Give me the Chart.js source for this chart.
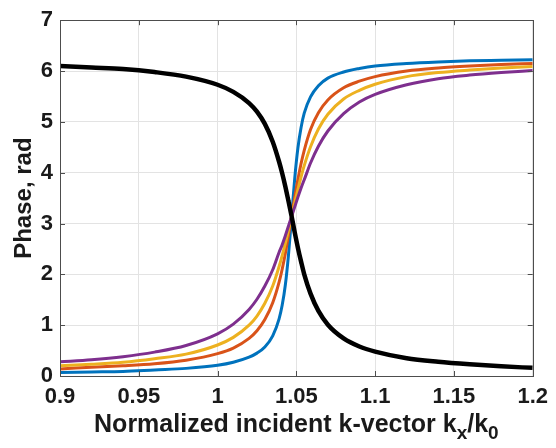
<!DOCTYPE html>
<html>
<head>
<meta charset="utf-8">
<script src="https://cdn.jsdelivr.net/npm/chart.js@4"></script>
<style>
  html, body { margin: 0; padding: 0; background: #fff; }
  #wrap { width: 556px; height: 448px; position: relative; }
</style>
</head>
<body>
<div id="wrap"><canvas id="phase-chart" width="556" height="448"></canvas></div>
<script>
// values
const kx = [0.9, 0.92, 0.94, 0.96, 0.98, 1.0, 1.01, 1.02, 1.025, 1.03, 1.035, 1.039, 1.041, 1.043, 1.045,
  1.047, 1.049, 1.051, 1.053, 1.055, 1.059, 1.064, 1.07, 1.08, 1.09, 1.1, 1.12, 1.14, 1.16, 1.18, 1.2];

const phaseBlue = [0.07, 0.08, 0.09, 0.12, 0.15, 0.21, 0.27, 0.37, 0.45, 0.57, 0.79, 1.12, 1.39, 1.79, 2.38,
  3.14, 3.90, 4.49, 4.89, 5.17, 5.49, 5.71, 5.86, 5.98, 6.05, 6.10, 6.15, 6.18, 6.20, 6.21, 6.22];
const phaseRed = [0.14, 0.17, 0.20, 0.24, 0.31, 0.44, 0.55, 0.74, 0.89, 1.11, 1.44, 1.84, 2.10, 2.41, 2.77,
  3.14, 3.52, 3.87, 4.18, 4.44, 4.85, 5.18, 5.43, 5.67, 5.80, 5.89, 6.00, 6.06, 6.10, 6.13, 6.15];
const phaseYellow = [0.20, 0.23, 0.27, 0.34, 0.43, 0.61, 0.76, 1.00, 1.18, 1.43, 1.77, 2.15, 2.37, 2.61, 2.87,
  3.14, 3.41, 3.67, 3.92, 4.14, 4.51, 4.86, 5.15, 5.45, 5.62, 5.74, 5.89, 5.97, 6.02, 6.06, 6.09];
const phasePurple = [0.28, 0.32, 0.38, 0.47, 0.60, 0.83, 1.02, 1.31, 1.51, 1.77, 2.09, 2.43, 2.58, 2.76, 2.95,
  3.14, 3.33, 3.52, 3.70, 3.86, 4.19, 4.52, 4.82, 5.16, 5.39, 5.54, 5.73, 5.85, 5.92, 5.97, 6.01];
const phaseBlack = [6.10, 6.07, 6.04, 5.98, 5.89, 5.73, 5.59, 5.37, 5.20, 4.96, 4.61, 4.22, 3.99, 3.73, 3.44,
  3.14, 2.82, 2.52, 2.25, 2.00, 1.62, 1.28, 1.01, 0.74, 0.58, 0.48, 0.35, 0.28, 0.23, 0.19, 0.16];

const xTicks = [0.9, 0.95, 1, 1.05, 1.1, 1.15, 1.2];
const yTicks = [0, 1, 2, 3, 4, 5, 6, 7];

const FONT = '"Liberation Sans", Arial, Helvetica, sans-serif';
const AXIS = '#4d4d4d';

function series(values, color, width, order) {
  return {
    data: kx.map((x, i) => ({ x, y: values[i] })),
    borderColor: color,
    borderWidth: width,
    pointRadius: 0,
    cubicInterpolationMode: 'monotone',
    fill: false,
    order
  };
}

// box round the plot, inward ticks, and the axis titles (x title has subscripts)
const matlabAxes = {
  id: 'matlabAxes',
  afterDraw(chart) {
    const { ctx, chartArea: a, scales } = chart;
    const tl = 5;
    ctx.save();
    ctx.strokeStyle = AXIS;
    ctx.lineWidth = 1;
    ctx.beginPath();
    for (const v of xTicks) {
      const px = Math.round(scales.x.getPixelForValue(v)) + 0.5;
      ctx.moveTo(px, a.bottom); ctx.lineTo(px, a.bottom - tl);
      ctx.moveTo(px, a.top); ctx.lineTo(px, a.top + tl);
    }
    for (const v of yTicks) {
      const py = Math.round(scales.y.getPixelForValue(v)) + 0.5;
      ctx.moveTo(a.left, py); ctx.lineTo(a.left + tl, py);
      ctx.moveTo(a.right, py); ctx.lineTo(a.right - tl, py);
    }
    ctx.stroke();
    ctx.strokeRect(Math.round(a.left) + 0.5, Math.round(a.top) + 0.5,
      Math.round(a.right - a.left), Math.round(a.bottom - a.top));

    ctx.fillStyle = '#1a1a1a';
    // y title
    ctx.font = 'bold 24px ' + FONT;
    ctx.textAlign = 'center';
    ctx.textBaseline = 'middle';
    ctx.translate(24, (a.top + a.bottom) / 2);
    ctx.rotate(-Math.PI / 2);
    ctx.fillText('Phase, rad', 0, 0);
    ctx.setTransform(1, 0, 0, 1, 0, 0);

    // x title with subscripts
    const parts = [
      { t: 'Normalized incident k-vector k', sub: false },
      { t: 'x', sub: true },
      { t: '/k', sub: false },
      { t: '0', sub: true }
    ];
    const big = 'bold 25px ' + FONT, small = 'bold 19px ' + FONT;
    let total = 0;
    for (const p of parts) { ctx.font = p.sub ? small : big; p.w = ctx.measureText(p.t).width; total += p.w; }
    let x = (a.left + a.right) / 2 - total / 2;
    const base = 432;
    ctx.textAlign = 'left';
    ctx.textBaseline = 'alphabetic';
    for (const p of parts) {
      ctx.font = p.sub ? small : big;
      ctx.fillText(p.t, x, p.sub ? base + 7 : base);
      x += p.w;
    }
    ctx.restore();
  }
};

new Chart(document.getElementById('phase-chart'), {
  type: 'line',
  data: {
    datasets: [
      series(phaseBlack, '#000000', 4.5, 0),
      series(phasePurple, '#7E2F8E', 3, 1),
      series(phaseYellow, '#EDB120', 3, 2),
      series(phaseRed, '#D95319', 3, 3),
      series(phaseBlue, '#0072BD', 3, 4)
    ]
  },
  options: {
    responsive: false,
    animation: false,
    layout: { padding: { left: 0, right: 17, top: 15, bottom: 0 } },
    plugins: { legend: { display: false }, tooltip: { enabled: false } },
    scales: {
      x: {
        type: 'linear',
        min: 0.9, max: 1.2,
        afterBuildTicks: s => { s.ticks = xTicks.map(v => ({ value: v })); },
        afterFit: s => { s.height = 72; },
        grid: { color: '#e3e3e3', drawTicks: false },
        border: { display: false },
        ticks: {
          padding: 8,
          color: '#1a1a1a',
          font: { family: FONT, size: 22, weight: 'bold' },
          callback: v => String(+v.toFixed(2)),
          maxRotation: 0
        }
      },
      y: {
        type: 'linear',
        min: 0, max: 7,
        afterBuildTicks: s => { s.ticks = yTicks.map(v => ({ value: v })); },
        afterFit: s => { s.width = 60; },
        grid: { color: '#e3e3e3', drawTicks: false },
        border: { display: false },
        ticks: {
          padding: 7,
          color: '#1a1a1a',
          font: { family: FONT, size: 22, weight: 'bold' }
        }
      }
    }
  },
  plugins: [matlabAxes]
});
</script>
</body>
</html>
